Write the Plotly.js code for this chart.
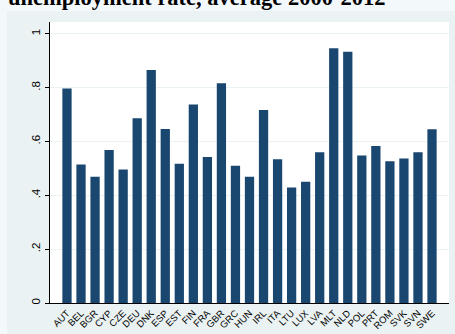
<!DOCTYPE html>
<html><head><meta charset="utf-8">
<script src="https://cdn.plot.ly/plotly-3.0.1.min.js"></script>
<style>html,body{margin:0;padding:0;}#chart{width:455px;height:334px;}</style>
</head><body><div id="chart"></div>
<script>
var countries = ["AUT","BEL","BGR","CYP","CZE","DEU","DNK","ESP","EST","FIN","FRA","GBR","GRC","HUN","IRL","ITA","LTU","LUX","LVA","MLT","NLD","POL","PRT","ROM","SVK","SVN","SWE"];
var values = [0.797,0.514,0.469,0.568,0.496,0.686,0.865,0.646,0.517,0.737,0.542,0.816,0.510,0.469,0.717,0.534,0.429,0.450,0.560,0.946,0.933,0.548,0.583,0.526,0.537,0.560,0.645];
var yTickVals = [0,0.2,0.4,0.6,0.8,1];
var yTickText = ["0",".2",".4",".6",".8","1"];
var titleText = "unemployment rate, average 2000-2012";

var n = countries.length;
var trace = {
  type: "bar", x: countries, y: values,
  marker: {color: "#1a476f", line: {width: 0}},
  width: 0.66, hoverinfo: "x+y"
};
var layout = {
  width: 455, height: 334,
  margin: {l: 50, r: 6, t: 22, b: 31},
  paper_bgcolor: "#eaf2f3", plot_bgcolor: "#ffffff",
  showlegend: false,
  font: {family: "Liberation Sans, Arial, sans-serif", color: "#000"},
  xaxis: {
    type: "category", range: [-1.21, n - 1 + 1.21],
    tickangle: -45, tickfont: {size: 9.5}, ticks: "", showgrid: false,
    showline: true, linecolor: "#000", linewidth: 1, zeroline: false, fixedrange: true
  },
  yaxis: {
    range: [0, 1.0435], tickvals: yTickVals, ticktext: yTickText,
    tickangle: -90, tickfont: {size: 11.5}, ticks: "outside", ticklen: 4, tickcolor: "#000",
    showgrid: true, gridcolor: "#eaf2f3", gridwidth: 1,
    showline: true, linecolor: "#000", linewidth: 1, zeroline: false, fixedrange: true
  },
  shapes: [
    {type: "rect", xref: "paper", yref: "paper", x0: -0.2, x1: (7-50)/399, y0: -0.2, y1: 1.2, fillcolor: "#f3f8fb", line: {width: 0}, layer: "below"},
    {type: "rect", xref: "paper", yref: "paper", x0: -0.2, x1: 1.1, y0: 1 + (22-11)/281, y1: 1.2, fillcolor: "#f3f8fb", line: {width: 0}, layer: "below"}
  ],
  annotations: [{
    text: "<b>" + titleText + "</b>", xref: "paper", yref: "paper",
    x: (387-50)/399, xanchor: "right", y: 1 + (22-11.5)/281, yanchor: "bottom",
    showarrow: false, font: {family: "Liberation Serif, Times New Roman, serif", size: 22.5, color: "#000"}
  }]
};
Plotly.newPlot("chart", [trace], layout, {displayModeBar: false, staticPlot: true});
</script></body></html>
